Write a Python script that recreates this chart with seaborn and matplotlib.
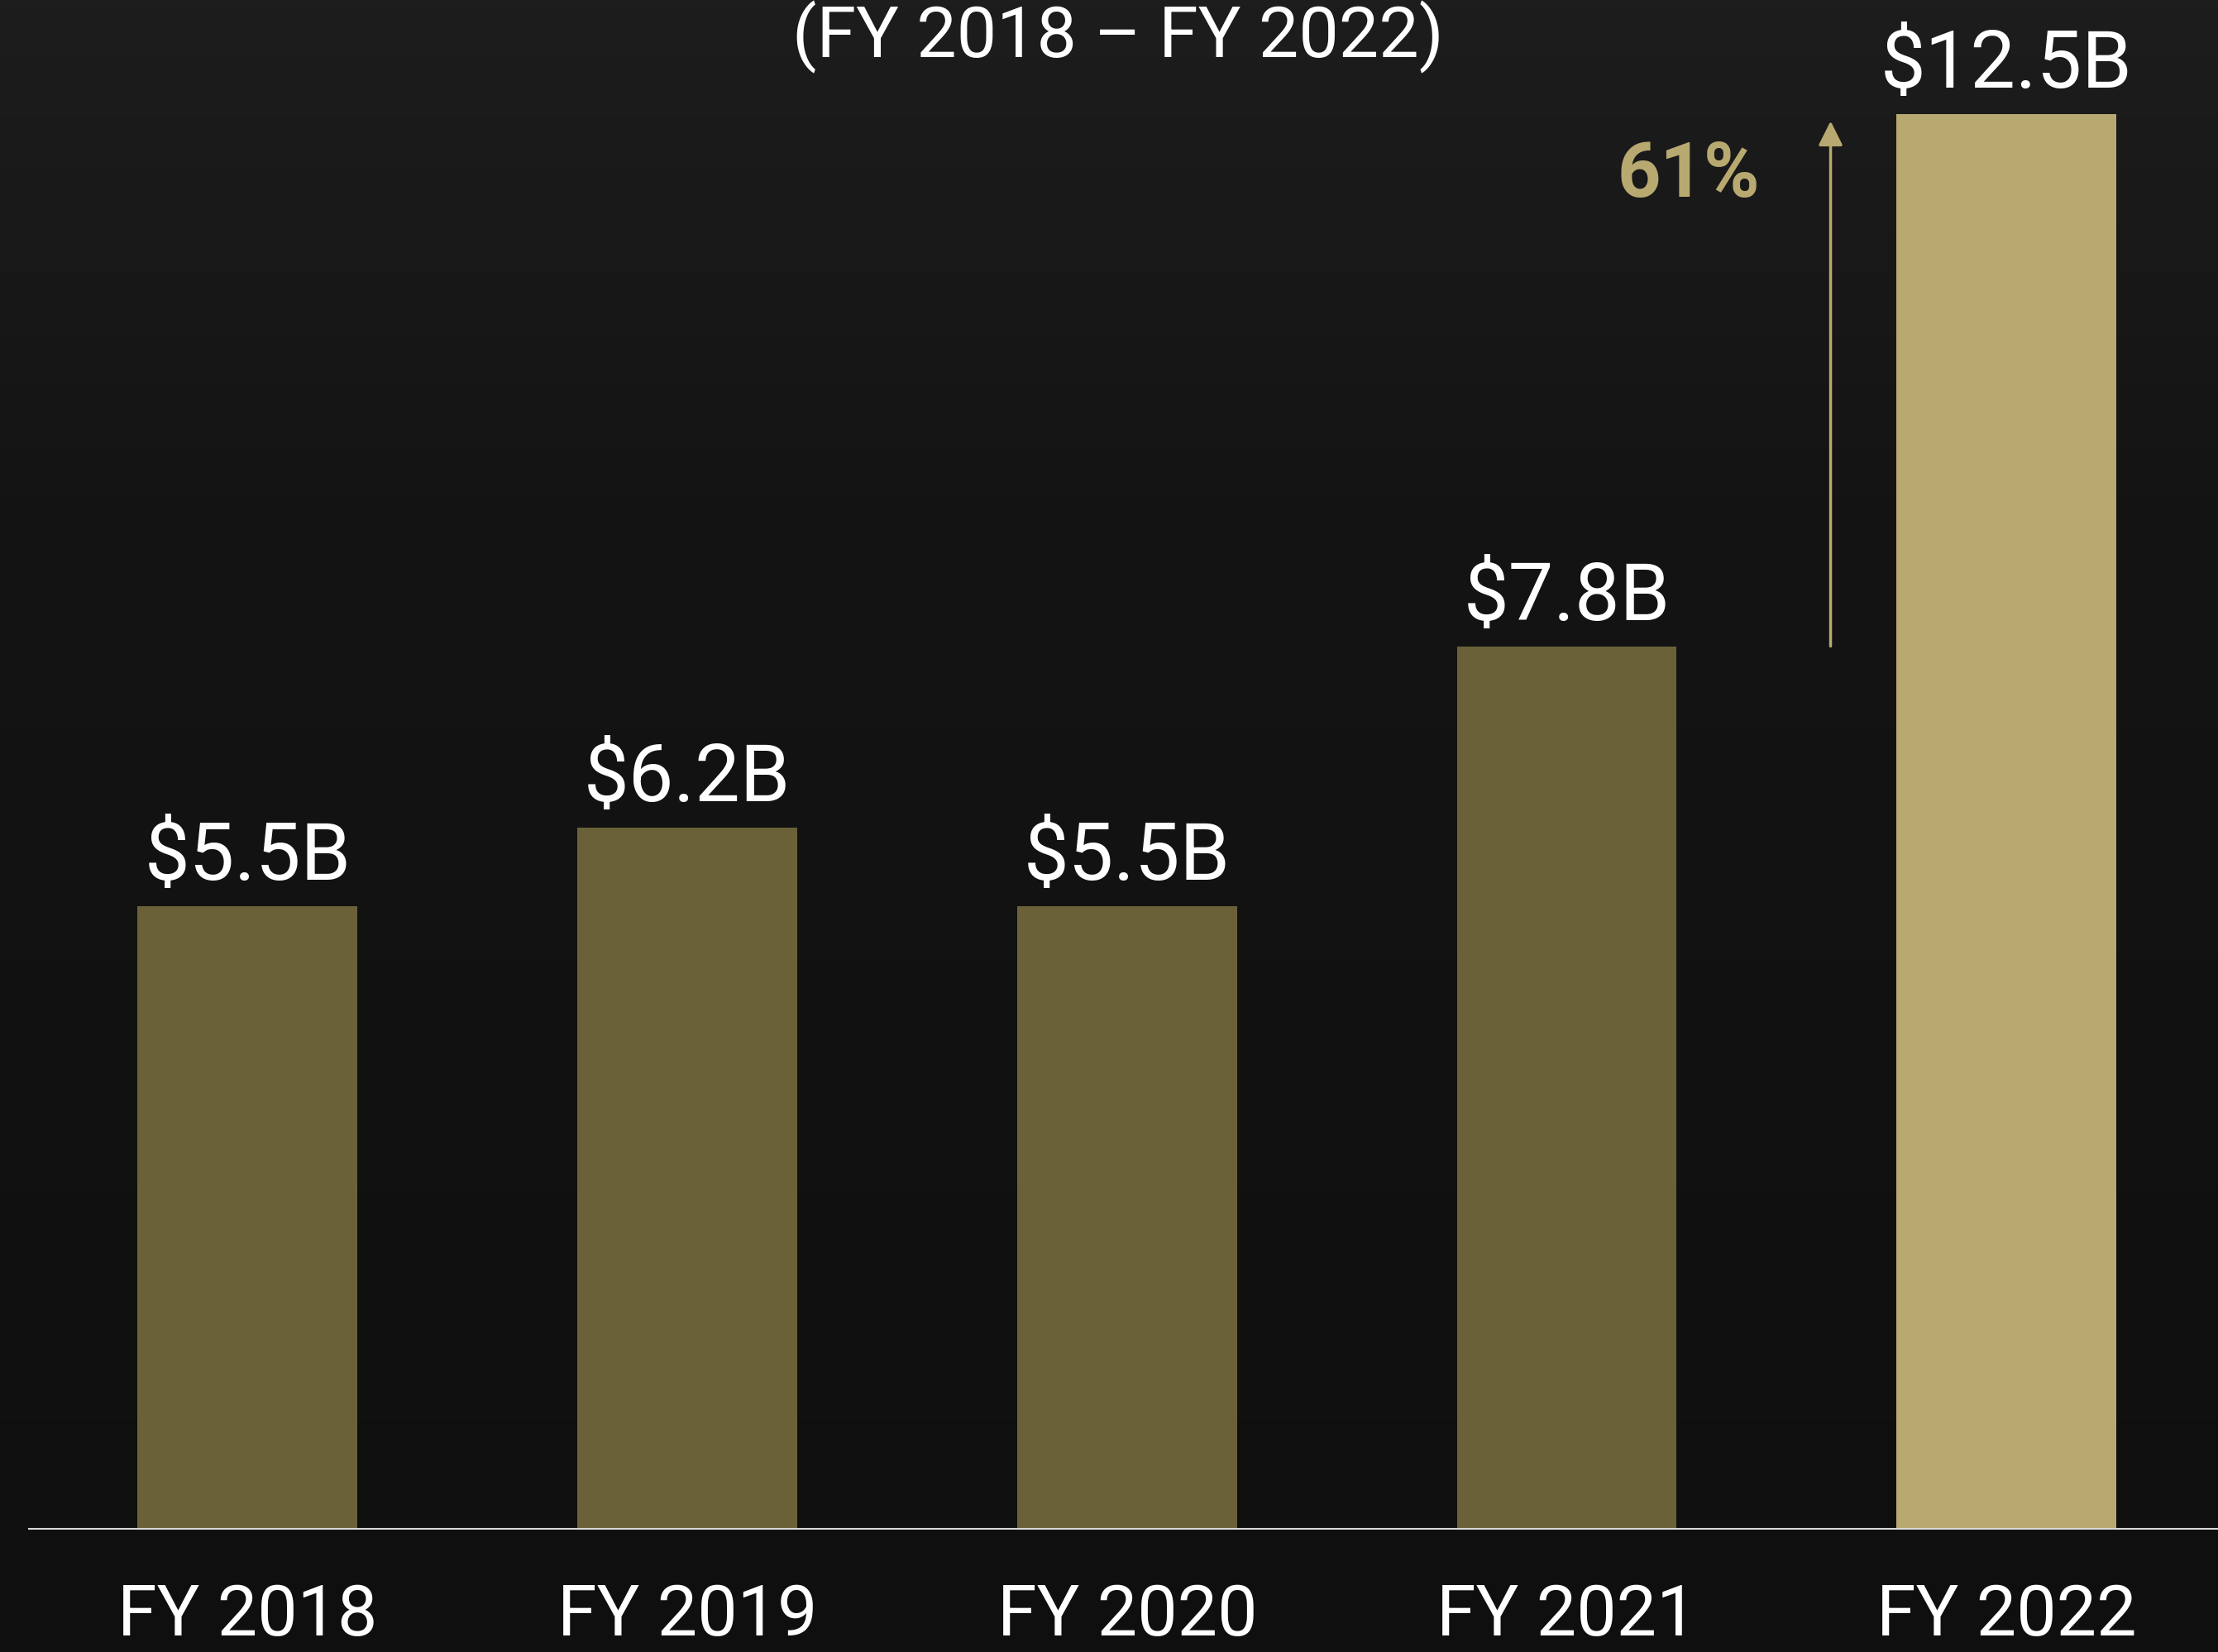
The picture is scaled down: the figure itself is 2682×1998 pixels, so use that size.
import numpy as np
import pandas as pd
import matplotlib
matplotlib.use("Agg")
import matplotlib.pyplot as plt
import seaborn as sns
from matplotlib.colors import LinearSegmentedColormap

# Revenue by fiscal year (billions of USD)
years = ["FY 2018", "FY 2019", "FY 2020", "FY 2021", "FY 2022"]
revenue_b = [5.5, 6.2, 5.5, 7.8, 12.5]
value_labels = ["$5.5B", "$6.2B", "$5.5B", "$7.8B", "$12.5B"]
bar_colors = ["#6B6139", "#6B6139", "#6B6139", "#6B6139", "#B8A970"]
title_text = "(FY 2018 \u2013 FY 2022)"
growth_label = "61%"

GOLD = "#B8A970"

sns.set_theme(style="dark")
plt.rcParams["font.family"] = ["Roboto", "DejaVu Sans"]

fig = plt.figure(figsize=(26.82, 19.98), dpi=100)
fig.patch.set_facecolor("#101010")

# dark backdrop, slightly lighter towards the top
bg = fig.add_axes([0, 0, 1, 1], zorder=0)
grad = np.linspace(0, 1, 512).reshape(-1, 1)
cmap = LinearSegmentedColormap.from_list(
    "backdrop", [(0.0, "#1d1d1d"), (0.3, "#141414"), (1.0, "#0f0f0f")])
bg.imshow(grad, aspect="auto", cmap=cmap, extent=[0, 1, 0, 1])
bg.axis("off")

ax = fig.add_axes([0, 0.0745, 1, 0.9255], zorder=1)
ax.set_facecolor("none")

df = pd.DataFrame({"year": years, "revenue": revenue_b})
sns.barplot(data=df, x="year", y="revenue", hue="year", palette=bar_colors,
            width=0.5, saturation=1, legend=False, ax=ax, zorder=2,
            linewidth=0, edgecolor="none")

ax.set_xlim(-0.563, 4.481)
ax.set_ylim(0, 13.51)
ax.set_xlabel("")
ax.set_ylabel("")
ax.set_yticks([])
ax.grid(False)

for side in ("left", "right", "top"):
    ax.spines[side].set_visible(False)
ax.spines["bottom"].set_color("#d9d9d9")
ax.spines["bottom"].set_linewidth(1.5)
ax.spines["bottom"].set_bounds(-0.498, 4.481)
ax.spines["bottom"].set_zorder(3)

ax.tick_params(axis="x", length=0, pad=47, labelsize=62, labelcolor="white")

# value labels above bars
for i, (v, txt) in enumerate(zip(revenue_b, value_labels)):
    ax.annotate(txt, (i, v), xytext=(0, 23), textcoords="offset points",
                ha="center", va="baseline", color="white", fontsize=70)

# growth arrow from FY2021 level to FY2022 level
ax.annotate("", xy=(3.6, 12.44), xytext=(3.6, revenue_b[3]),
            arrowprops=dict(arrowstyle="-|>,head_length=0.9,head_width=0.45",
                            color=GOLD, lw=2.5, mutation_scale=20,
                            shrinkA=0, shrinkB=0))
ax.text(3.277, 11.96, growth_label, ha="center", va="center", color=GOLD,
        fontsize=66, fontweight="bold")

# subtitle, partly running off the top edge
ax.text(1.98, 13.0, title_text, ha="center", va="baseline", color="white",
        fontsize=62, clip_on=False)

fig.savefig("out.png", dpi=100, facecolor=fig.get_facecolor())
